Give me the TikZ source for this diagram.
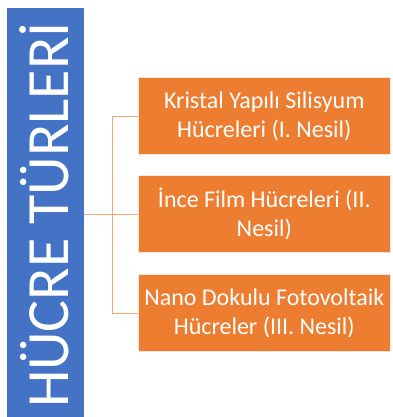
\documentclass[tikz,border=0pt]{standalone}
\usepackage{fontspec}
\setmainfont{Carlito}
\definecolor{barblue}{HTML}{4472C4}
\definecolor{boxorange}{HTML}{ED7D31}
\definecolor{linkorange}{HTML}{F4A679}
\begin{document}
\begin{tikzpicture}[x=1pt,y=-1pt,
  typebox/.style={fill=boxorange,draw=white!80!boxorange,line width=0.6pt,
    minimum width=252pt,minimum height=77pt,anchor=west,inner sep=0pt,
    text=white,align=center,font=\fontsize{24}{29}\selectfont},
  link/.style={draw=linkorange,line width=1pt}]
\useasboundingbox (0,0) rectangle (392,417);
% title bar
\fill[barblue] (7,8) rectangle (84,417);
\node[rotate=90,text=white,font=\fontsize{60}{60}\selectfont,inner sep=0pt] (title) at (44,215) {HÜCRE TÜRLERİ};
\coordinate (barR) at (84,214);
% cell type boxes
\node[typebox] (b1) at (138,116) {Kristal Yapılı Silisyum\\Hücreleri (I. Nesil)};
\node[typebox] (b2) at (138,214) {İnce Film Hücreleri (II.\\Nesil)};
\node[typebox] (b3) at (138,313) {Nano Dokulu Fotovoltaik\\Hücreler (III. Nesil)};
% connectors
\coordinate (j1) at (112,116);
\coordinate (j3) at (112,313);
\draw[link] (b1.west) -- (j1) -- (j3) -- (b3.west);
\draw[link] (barR) -- (b2.west);
\end{tikzpicture}
\end{document}
